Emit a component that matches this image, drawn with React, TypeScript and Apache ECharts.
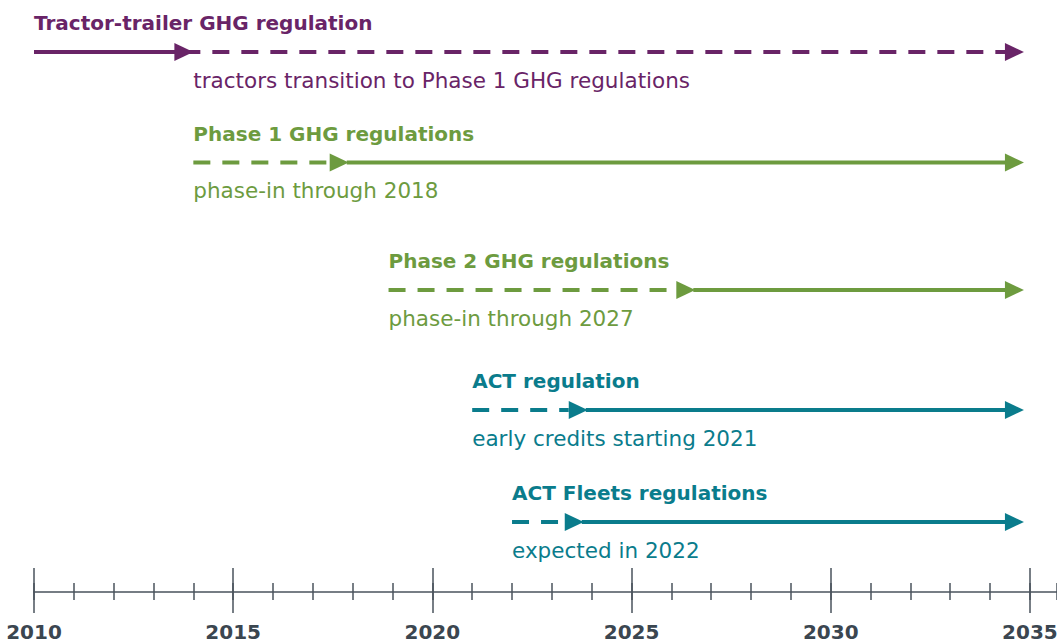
import React, { useEffect, useRef } from "react";
import * as echarts from "echarts";

const rowTitles = [
  "Tractor-trailer GHG regulation",
  "Phase 1 GHG regulations",
  "Phase 2 GHG regulations",
  "ACT regulation",
  "ACT Fleets regulations",
];
const rowNotes = [
  "tractors transition to Phase 1 GHG regulations",
  "phase-in through 2018",
  "phase-in through 2027",
  "early credits starting 2021",
  "expected in 2022",
];
const startYears = [2010, 2014, 2018.9, 2021, 2022];
const switchYears = [2014, 2017.9, 2026.6, 2023.9, 2023.8];
const endYears = [2034.85, 2034.85, 2034.85, 2034.85, 2034.85];
const noteYears = [2014, 2014, 2018.9, 2021, 2022];
const firstDashed = [false, true, true, true, true];
const lanes = [52, 162.5, 290, 410, 522];
const rowColors = ["#692467", "#6d9b3f", "#6d9b3f", "#0a7c8c", "#0a7c8c"];

const axisMin = 2010;
const axisMax = 2035.68;
const axisColor = "#4a535c";
const FONT = '"DejaVu Sans", "Open Sans", sans-serif';

export default function App() {
  const ref = useRef<HTMLDivElement>(null);
  useEffect(() => {
    if (!ref.current) return;
    const chart = echarts.init(ref.current, undefined, { renderer: "svg" });
    const data = rowTitles.map((_, i) => [
      startYears[i],
      switchYears[i],
      endYears[i],
      lanes[i],
      i,
    ]);
    const AW = 19;
    const AH = 9;
    const renderItem = (params: any, api: any) => {
      const i = api.value(4);
      const lane = api.value(3);
      const [xs, y] = api.coord([api.value(0), lane]);
      const xm = api.coord([api.value(1), lane])[0];
      const xe = api.coord([api.value(2), lane])[0];
      const xn = api.coord([noteYears[i], lane])[0];
      const color = rowColors[i];
      const dash = [17, 12];
      const children: any[] = [];
      if (firstDashed[i]) {
        children.push({
          type: "line",
          shape: { x1: xs, y1: y, x2: xm - AW, y2: y },
          style: { stroke: color, lineWidth: 4, lineDash: dash },
        });
        children.push({
          type: "line",
          shape: { x1: xm - 2, y1: y, x2: xe - AW + 2, y2: y },
          style: { stroke: color, lineWidth: 4 },
        });
      } else {
        children.push({
          type: "line",
          shape: { x1: xs, y1: y, x2: xm - 4, y2: y },
          style: { stroke: color, lineWidth: 4 },
        });
        children.push({
          type: "line",
          shape: { x1: xm - 10, y1: y, x2: xe - AW + 2, y2: y },
          style: { stroke: color, lineWidth: 4, lineDash: dash },
        });
      }
      [xm, xe].forEach((xt) => {
        children.push({
          type: "polygon",
          shape: {
            points: [
              [xt - AW, y - AH],
              [xt, y],
              [xt - AW, y + AH],
            ],
          },
          style: { fill: color },
        });
      });
      children.push({
        type: "text",
        x: xs,
        y: y - 29,
        style: {
          text: rowTitles[i],
          fill: color,
          fontSize: 20,
          fontWeight: "bold",
          fontFamily: FONT,
          align: "left",
          verticalAlign: "middle",
        },
      });
      children.push({
        type: "text",
        x: xn,
        y: y + 28,
        style: {
          text: rowNotes[i],
          fill: color,
          fontSize: 21.5,
          fontWeight: "normal",
          fontFamily: FONT,
          align: "left",
          verticalAlign: "middle",
        },
      });
      return { type: "group", children };
    };

    const makeGrid = () => ({
      left: 34,
      right: 0,
      top: 0,
      bottom: 52,
      containLabel: false,
      outerBoundsMode: "none",
    });
    const baseAxis = {
      type: "value",
      min: axisMin,
      max: axisMax,
      position: "bottom",
      splitLine: { show: false },
    };

    chart.setOption({
      animation: false,
      backgroundColor: "#ffffff",
      grid: [makeGrid(), makeGrid(), makeGrid()],
      xAxis: [
        {
          ...baseAxis,
          gridIndex: 0,
          interval: 1,
          offset: 0,
          axisLine: {
            show: true,
            onZero: false,
            lineStyle: { color: axisColor, width: 1.5 },
          },
          axisTick: { show: false },
          axisLabel: { show: false },
        },
        {
          ...baseAxis,
          gridIndex: 1,
          interval: 1,
          offset: 8,
          axisLine: { show: false, onZero: false },
          axisTick: {
            show: true,
            inside: true,
            length: 17,
            lineStyle: { color: axisColor, width: 1.5 },
          },
          axisLabel: { show: false },
        },
        {
          ...baseAxis,
          gridIndex: 2,
          interval: 5,
          offset: 21,
          axisLine: { show: false, onZero: false },
          axisTick: {
            show: true,
            inside: true,
            length: 45,
            lineStyle: { color: axisColor, width: 1.5 },
          },
          axisLabel: {
            show: true,
            margin: 9,
            lineHeight: 20,
            color: "#3b4650",
            fontSize: 20,
            fontWeight: "bold",
            fontFamily: FONT,
            showMaxLabel: false,
            formatter: (v: number) => (v % 5 === 0 ? String(v) : ""),
          },
        },
      ],
      yAxis: [0, 1, 2].map((g) => ({
        type: "value",
        gridIndex: g,
        min: 0,
        max: 592,
        inverse: true,
        show: false,
        axisLine: { onZero: false },
      })),
      series: [
        {
          type: "custom",
          renderItem,
          data,
          xAxisIndex: 0,
          yAxisIndex: 0,
          encode: { x: [0, 1, 2], y: 3 },
          clip: false,
          silent: true,
        },
      ],
    });
    return () => chart.dispose();
  }, []);
  return (
    <div
      ref={ref}
      style={{ position: "fixed", left: 0, top: 0, width: 1057, height: 644 }}
    />
  );
}
